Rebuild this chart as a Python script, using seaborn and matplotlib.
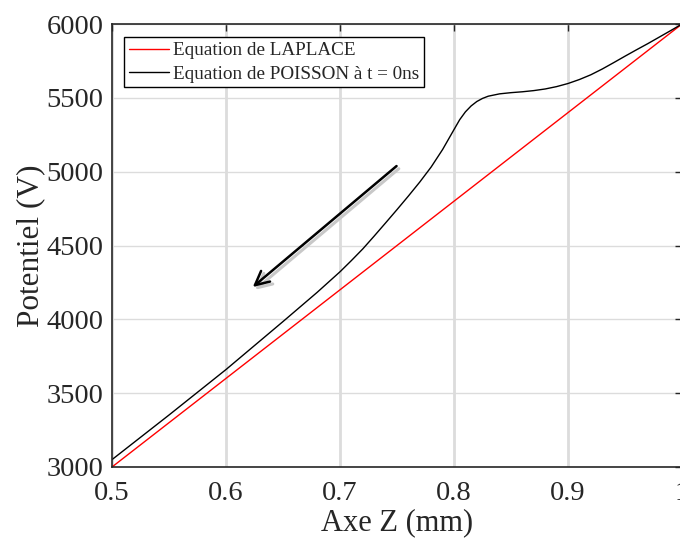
import numpy as np
import pandas as pd
import matplotlib
matplotlib.use("Agg")
import matplotlib.pyplot as plt
import seaborn as sns

# Data
z_laplace = [0.5, 1.0]
v_laplace = [3000, 6000]

z_poisson = [0.50, 0.55, 0.60, 0.65, 0.68, 0.70, 0.71, 0.72, 0.73, 0.74, 0.75, 0.76,
             0.77, 0.78, 0.79, 0.80, 0.805, 0.81, 0.815, 0.82, 0.825, 0.83, 0.84, 0.85,
             0.86, 0.87, 0.88, 0.89, 0.90, 0.91, 0.92, 0.93, 0.94, 0.95, 0.96, 0.97,
             0.98, 0.99, 1.00]
v_poisson = [3050, 3352, 3660, 3985, 4183, 4322, 4398, 4477, 4564, 4653, 4743, 4835,
             4930, 5032, 5150, 5285, 5352, 5405, 5445, 5475, 5496, 5511, 5527, 5535,
             5541, 5549, 5560, 5576, 5597, 5624, 5656, 5695, 5738, 5782, 5825, 5867,
             5911, 5955, 6000]

labels = ["Equation de LAPLACE", "Equation de POISSON à t = 0ns"]
xticks = [0.5, 0.6, 0.7, 0.8, 0.9, 1.0]
xticklabels = ["0.5", "0.6", "0.7", "0.8", "0.9", "1"]
yticks = [3000, 3500, 4000, 4500, 5000, 5500, 6000]

sns.set_theme(style="white")
plt.rcParams['font.family'] = ['Liberation Serif', 'DejaVu Serif']

fig = plt.figure(figsize=(6.8, 5.38), dpi=100)
ax = fig.add_axes([112/680, 1-467/538, (682-112)/680, (467-24)/538])

df_l = pd.DataFrame({"z": z_laplace, "v": v_laplace})
df_p = pd.DataFrame({"z": z_poisson, "v": v_poisson})
sns.lineplot(data=df_l, x="z", y="v", ax=ax, color="#ff0000", lw=1.0, label=labels[0])
sns.lineplot(data=df_p, x="z", y="v", ax=ax, color="black", lw=1.0, label=labels[1])

ax.set_xlim(0.5, 1.0)
ax.set_ylim(3000, 6000)
ax.set_xticks(xticks)
ax.set_xticklabels(xticklabels)
ax.set_yticks(yticks)
ax.tick_params(axis="both", which="both", direction="in", length=5, width=1,
               top=True, right=True, labelsize=20.5, colors="#262626")
ax.tick_params(axis="x", pad=10)
ax.tick_params(axis="y", pad=6)
ax.xaxis.grid(True, color="#dcdcdc", lw=2.0)
ax.yaxis.grid(True, color="#dcdcdc", lw=1.0)
ax.set_axisbelow(True)
for s in ax.spines.values():
    s.set_color("#262626")
    s.set_linewidth(1.2)

ax.set_xlabel("Axe Z (mm)", fontsize=22, color="#262626", labelpad=2)
ax.set_ylabel("Potentiel (V)", fontsize=22.5, color="#262626", labelpad=1)

# Arrow with shadow
ax.annotate("", xy=(0.6255, 4200), xytext=(0.7516, 5020),
            arrowprops=dict(arrowstyle="->", color="#c8c8c8", lw=2.2,
                            mutation_scale=25, shrinkA=0, shrinkB=0), zorder=3)
ax.annotate("", xy=(0.6235, 4219), xytext=(0.7496, 5038),
            arrowprops=dict(arrowstyle="->", color="black", lw=1.8,
                            mutation_scale=25, shrinkA=0, shrinkB=0), zorder=4)

leg = ax.legend(loc="upper left", bbox_to_anchor=(0.021, 0.97), fontsize=13.8,
                frameon=True, fancybox=False, edgecolor="black", framealpha=1,
                handlelength=2.1, handletextpad=0.2, borderpad=0.25, labelspacing=0.3,
                borderaxespad=0)
leg.get_frame().set_linewidth(1.0)

fig.savefig("out.png", dpi=100)
